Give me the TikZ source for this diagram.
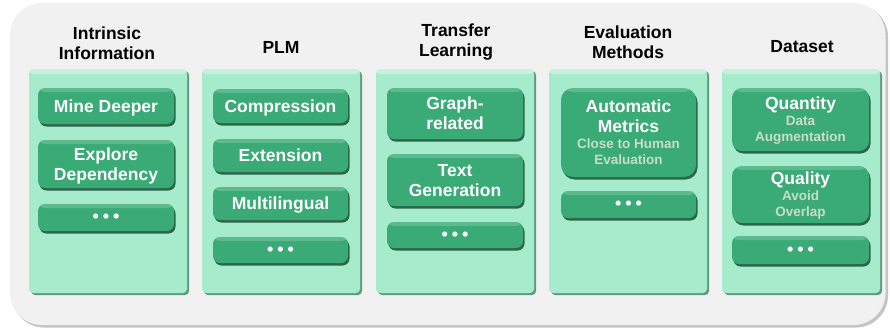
\documentclass[tikz,border=0pt]{standalone}
\usepackage{fontspec}
\setmainfont{Liberation Sans}
\usetikzlibrary{shadows}
\definecolor{outerfill}{HTML}{F1F1F1}
\definecolor{outershadow}{HTML}{C4C4C4}
\definecolor{panelfill}{HTML}{A6EBCC}
\definecolor{paneledge}{HTML}{5E9C7E}
\definecolor{boxgreen}{HTML}{3AAB76}
\definecolor{boxshadow}{HTML}{2C6549}
\definecolor{subgray}{HTML}{C9DCCB}
\tikzset{
  outerbox/.style={fill=outerfill, rounded corners=32pt},
  panel/.style={fill=panelfill, rounded corners=4pt, inner sep=0pt,
    minimum width=158pt, minimum height=224pt,
    drop shadow={shadow xshift=2pt, shadow yshift=-2pt, fill=paneledge, opacity=1},
    path picture={\fill[white,opacity=0.35] ([yshift=1pt]path picture bounding box.north west) rectangle ([yshift=-5pt]path picture bounding box.north east);}},
  gbox/.style={fill=boxgreen, rounded corners=7pt, inner sep=0pt, align=center,
    text=white, font=\fontsize{17.5}{20}\selectfont\bfseries, text depth=0pt,
    drop shadow={shadow xshift=1.5pt, shadow yshift=-2.5pt, fill=boxshadow, opacity=1},
    path picture={\fill[white,opacity=0.18] ([yshift=1pt]path picture bounding box.north west) rectangle ([yshift=-4pt]path picture bounding box.north east);}},
  dots/.style={gbox, font=\fontsize{18}{18}\selectfont\bfseries},
  header/.style={align=center, text=black, font=\fontsize{17.5}{20}\selectfont\bfseries}
}
\newcommand{\subtxt}[1]{{\fontsize{13.5}{16}\selectfont\color{subgray}#1}}
\newcommand{\threedots}{\raisebox{-2pt}{•\hspace{4pt}•\hspace{4pt}•}}
\begin{document}
\begin{tikzpicture}[x=1pt,y=-1pt]
\useasboundingbox (0,0) rectangle (890,329);
\fill[white] (0,0) rectangle (890,329);
\fill[outershadow, rounded corners=32pt] (12,5) rectangle (888,327.5);
\fill[outerfill, rounded corners=32pt] (10,3) rectangle (885.5,325);

% headers
\node[header] (h1) at (107,43) {Intrinsic\\Information};
\node[header] (h2) at (281,47) {PLM};
\node[header] (h3) at (456,42) {Transfer\\Learning};
\node[header] (h4) at (628,42) {Evaluation\\Methods};
\node[header] (h5) at (802,47) {Dataset};

% panels
\node[panel] (p1) at (108,181) {};
\node[panel] (p2) at (281,181) {};
\node[panel] (p3) at (455,181) {};
\node[panel] (p4) at (628,181) {};
\node[panel] (p5) at (801,181) {};

% panel 1
\node[gbox, minimum width=136pt, minimum height=36pt] (b11) at (106,106) {Mine Deeper};
\node[gbox, minimum width=136pt, minimum height=48pt] (b12) at (106,164) {Explore\\Dependency};
\node[dots, minimum width=136pt, minimum height=27pt] (b13) at (106,217.5) {\threedots};

% panel 2
\node[gbox, minimum width=135pt, minimum height=34pt] (b21) at (280.5,106) {Compression};
\node[gbox, minimum width=135pt, minimum height=33pt] (b22) at (280.5,155.5) {Extension};
\node[gbox, minimum width=135pt, minimum height=33pt] (b23) at (280.5,203.5) {Multilingual};
\node[dots, minimum width=135pt, minimum height=26pt] (b24) at (280.5,250) {\threedots};

% panel 3
\node[gbox, minimum width=136pt, minimum height=51pt] (b31) at (455,113.5) {Graph-\\related};
\node[gbox, minimum width=136pt, minimum height=52pt] (b32) at (455,180) {Text\\Generation};
\node[dots, minimum width=136pt, minimum height=26pt] (b33) at (455,235) {\threedots};

% panel 4
\node[gbox, rounded corners=12pt, minimum width=135pt, minimum height=89pt] (b41) at (628.5,132.5)
  {Automatic\\Metrics\\[-4pt]\subtxt{Close to Human}\\[-4pt]\subtxt{Evaluation}};
\node[dots, minimum width=135pt, minimum height=27pt] (b42) at (628.5,204.5) {\threedots};

% panel 5
\node[gbox, rounded corners=10pt, minimum width=137pt, minimum height=63pt] (b51) at (800.5,119.5)
  {Quantity\\[-4pt]\subtxt{Data}\\[-4pt]\subtxt{Augmentation}};
\node[gbox, rounded corners=10pt, minimum width=137pt, minimum height=57pt] (b52) at (800.5,194.5)
  {Quality\\[-4pt]\subtxt{Avoid}\\[-4pt]\subtxt{Overlap}};
\node[dots, minimum width=137pt, minimum height=28pt] (b53) at (800.5,250) {\threedots};
\end{tikzpicture}
\end{document}
